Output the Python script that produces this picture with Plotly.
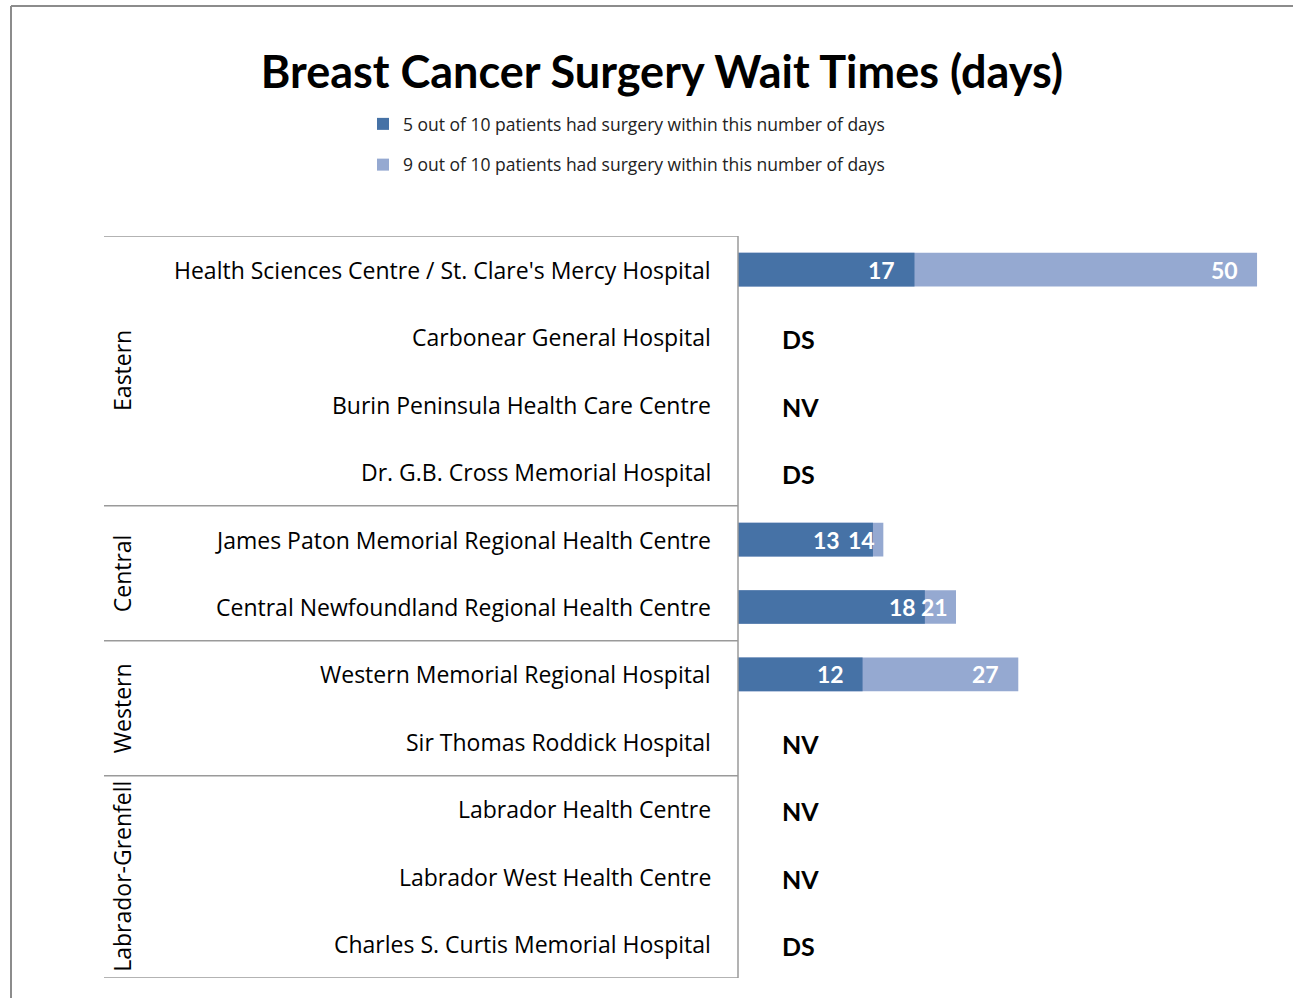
import plotly.graph_objects as go

# ---------------- data ----------------
hospitals = [
    "Health Sciences Centre / St. Clare's Mercy Hospital",
    "Carbonear General Hospital",
    "Burin Peninsula Health Care Centre",
    "Dr. G.B. Cross Memorial Hospital",
    "James Paton Memorial Regional Health Centre",
    "Central Newfoundland Regional Health Centre",
    "Western Memorial Regional Hospital",
    "Sir Thomas Roddick Hospital",
    "Labrador Health Centre",
    "Labrador West Health Centre",
    "Charles S. Curtis Memorial Hospital",
]
regions = ["Eastern", "Central", "Western", "Labrador-Grenfell"]
region_sizes = [4, 2, 2, 3]
p50 = [17, None, None, None, 13, 18, 12, None, None, None, None]
p90 = [50, None, None, None, 14, 21, 27, None, None, None, None]
notes = ["", "DS", "NV", "DS", "", "", "", "NV", "NV", "NV", "DS"]
series_names = [
    "5 out of 10 patients had surgery within this number of days",
    "9 out of 10 patients had surgery within this number of days",
]
title = "Breast Cancer Surgery Wait Times (days)"

# ---------------- layout geometry ----------------
W, H = 1293, 998
L, R, T, B = 738, 1283, 236, 978
XMAX = 52.5
pxday = (R - L) / XMAX
FONT = "Lato"
LFONT = "Open Sans"
DARK = "#4672A6"
LIGHT = "#95A9D1"

def xp(px):
    return (px - L) / (R - L)

def yp(py):
    return (B - py) / (B - T)

ypos = list(range(len(hospitals)))

fig = go.Figure()
fig.add_trace(go.Bar(
    y=ypos, x=p90, orientation="h", name=series_names[1], legendgroup="g2",
    marker=dict(color=LIGHT, line=dict(width=0)), width=0.5, legendrank=2,
))
fig.add_trace(go.Bar(
    y=ypos, x=p50, orientation="h", name=series_names[0], legendgroup="g1",
    marker=dict(color=DARK, line=dict(width=0)), width=0.5, legendrank=1,
))

ann = []
# value labels
for i in ypos:
    a, b = p50[i], p90[i]
    if a is None:
        continue
    seg = (b - a) * pxday
    light_shift = -17 if seg > 45 else -6
    light_w = len(str(b)) * 13
    ann.append(dict(x=b, y=i, xref="x", yref="y", text=f"<b>{b}</b>", showarrow=False,
                    xanchor="right", xshift=light_shift,
                    font=dict(family=FONT, size=23, color="white")))
    # dark label: inside end, pushed left if it would collide with light label
    dark_right = a * pxday - 17
    light_left = b * pxday + light_shift - light_w
    if dark_right > light_left - 6:
        dark_right = light_left - 9
    if seg <= 45 and seg > 20:
        dark_right = a * pxday - 7
    ann.append(dict(x=a, y=i, xref="x", yref="y", text=f"<b>{a}</b>", showarrow=False,
                    xanchor="right", xshift=dark_right - a * pxday,
                    font=dict(family=FONT, size=23, color="white")))

# DS / NV notes
for i, n in enumerate(notes):
    if n:
        ann.append(dict(x=0, y=i, xref="x", yref="y", text=f"<b>{n}</b>", showarrow=False,
                        xanchor="left", xshift=42, yshift=-2,
                        font=dict(family=FONT, size=25, color="black")))

# category labels
for i, h in enumerate(hospitals):
    ann.append(dict(x=xp(713), y=i, xref="paper", yref="y", text=h, showarrow=False,
                    xanchor="right", font=dict(family=LFONT, size=23, color="black")))

# region labels and separator lines
shapes = []
start = 0
bounds = [-0.5]
for reg, n in zip(regions, region_sizes):
    mid = start + (n - 1) / 2
    ann.append(dict(x=xp(104), y=mid, xref="paper", yref="y", text=reg, showarrow=False,
                    textangle=-90, font=dict(family=LFONT, size=23, color="black")))
    start += n
    bounds.append(start - 0.5)
for bd in bounds:
    shapes.append(dict(type="line", xref="paper", yref="y", x0=xp(104), x1=0, y0=bd, y1=bd,
                       line=dict(color="#9a9a9a", width=1.5)))
shapes.append(dict(type="line", xref="paper", yref="paper", x0=0, x1=0, y0=0, y1=1,
                   line=dict(color="#9a9a9a", width=1.5)))
# outer frame
shapes.append(dict(type="line", xref="paper", yref="paper", x0=xp(11), x1=xp(11), y0=yp(6), y1=yp(1100),
                   line=dict(color="#8c8c8c", width=2)))
shapes.append(dict(type="line", xref="paper", yref="paper", x0=xp(11), x1=xp(1400), y0=yp(6), y1=yp(6),
                   line=dict(color="#8c8c8c", width=2)))

fig.update_layout(
    width=W, height=H,
    margin=dict(l=L, r=W - R, t=T, b=H - B),
    paper_bgcolor="white", plot_bgcolor="white",
    barmode="overlay",
    title=dict(text=f"<b>{title}</b>", x=662 / W, xanchor="center",
               y=1 - 72 / H, yanchor="middle",
               font=dict(family=FONT, size=45, color="black")),
    xaxis=dict(range=[0, XMAX], visible=False),
    yaxis=dict(range=[len(hospitals) - 0.5, -0.5], visible=False),
    legend=dict(x=xp(363), y=yp(106), xanchor="left", yanchor="top", orientation="v",
                font=dict(family=LFONT, size=17.5, color="#222"), tracegroupgap=15,
                itemwidth=30, bgcolor="rgba(0,0,0,0)"),
    showlegend=True,
    annotations=ann, shapes=shapes,
)
fig.write_html("out.html", config={"displayModeBar": False},
               post_script="document.body.style.margin='0px';")
